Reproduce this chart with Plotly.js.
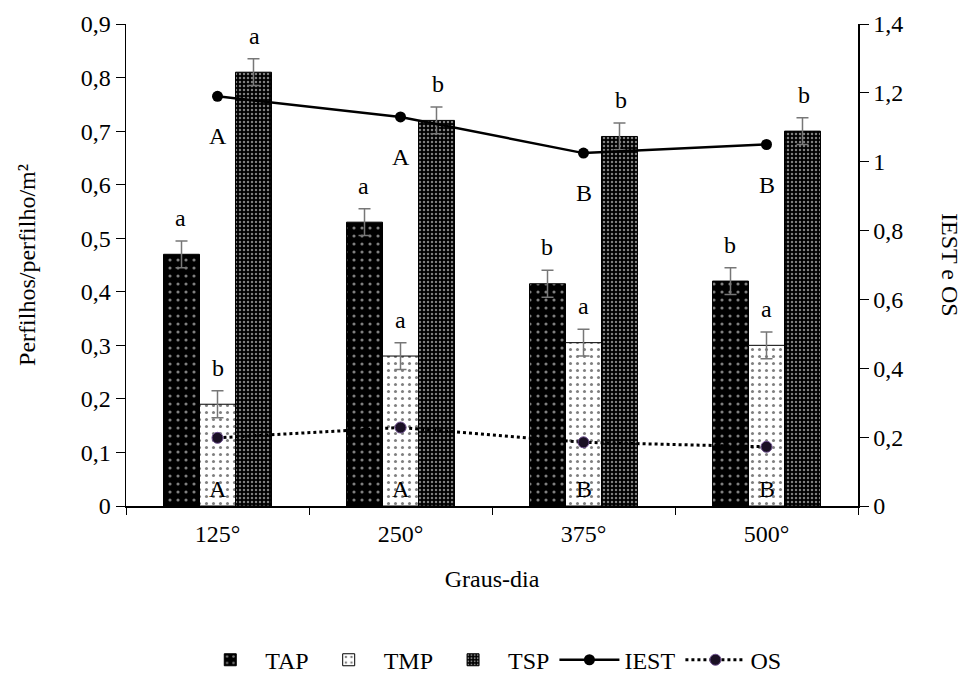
<!DOCTYPE html>
<html>
<head>
<meta charset="utf-8">
<script src="https://cdn.plot.ly/plotly-3.0.1.min.js"></script>
<style>html,body{margin:0;padding:0;background:#fff;}#chart{width:968px;height:675px;}</style>
</head>
<body>
<div id="chart"></div>
<script>
const categories = ['125°', '250°', '375°', '500°'];
const tap = [0.47, 0.53, 0.415, 0.42];
const tmp = [0.19, 0.28, 0.305, 0.30];
const tsp = [0.81, 0.72, 0.69, 0.70];
const tapErr = [0.025, 0.025, 0.025, 0.025];
const tmpErr = [0.025, 0.025, 0.025, 0.025];
const tspErr = [0.025, 0.025, 0.025, 0.025];
const iest = [1.19, 1.13, 1.025, 1.05];
const os = [0.198, 0.228, 0.185, 0.172];
const tapLetters = ['a', 'a', 'b', 'b'];
const tmpLetters = ['b', 'a', 'a', 'a'];
const tspLetters = ['a', 'b', 'b', 'b'];
const iestLetters = ['A', 'A', 'B', 'B'];
const osLetters = ['A', 'A', 'B', 'B'];

const FONT = 'Liberation Serif';
const FS = 24;
const f = (s) => ({family: FONT, size: s || FS, color: '#000'});
const errStyle = {type: 'data', visible: true, color: '#777', thickness: 1.5, width: 6};

const traces = [
  {type: 'bar', name: 'TAP', x: categories, y: tap,
   error_y: Object.assign({array: tapErr}, errStyle),
   marker: {color: '#000', line: {color: '#000', width: 1},
            pattern: {shape: '.', fgcolor: '#fff', bgcolor: '#000', size: 8, solidity: 0.12, fillmode: 'overlay'}}},
  {type: 'bar', name: 'TMP', x: categories, y: tmp,
   error_y: Object.assign({array: tmpErr}, errStyle),
   marker: {color: '#fff', line: {color: '#000', width: 1},
            pattern: {shape: '.', fgcolor: '#000', bgcolor: '#fff', size: 7, solidity: 0.15, fillmode: 'overlay'}}},
  {type: 'bar', name: 'TSP', x: categories, y: tsp,
   error_y: Object.assign({array: tspErr}, errStyle),
   marker: {color: '#000', line: {color: '#000', width: 1},
            pattern: {shape: '.', fgcolor: '#fff', bgcolor: '#000', size: 4, solidity: 0.3, fillmode: 'overlay'}}},
  {type: 'scatter', mode: 'lines+markers', name: 'IEST', x: categories, y: iest, yaxis: 'y2',
   line: {color: '#000', width: 2.5}, marker: {color: '#000', size: 11}},
  {type: 'scatter', mode: 'lines+markers', name: 'OS', x: categories, y: os, yaxis: 'y2',
   line: {color: '#000', width: 3, dash: 'dot'},
   marker: {color: '#1a1024', size: 11, line: {color: '#6a4c8c', width: 1}}}
];

const annotations = [];
const barShift = [-37, 0, 37];
const barSeries = [[tap, tapErr, tapLetters], [tmp, tmpErr, tmpLetters], [tsp, tspErr, tspLetters]];
barSeries.forEach((s, k) => {
  categories.forEach((c, i) => {
    annotations.push({x: c, y: s[0][i] + s[1][i], xref: 'x', yref: 'y', text: s[2][i],
      showarrow: false, yanchor: 'bottom', xshift: barShift[k], yshift: 8, font: f()});
  });
});
categories.forEach((c, i) => {
  annotations.push({x: c, y: iest[i], xref: 'x', yref: 'y2', text: iestLetters[i],
    showarrow: false, yanchor: 'middle', yshift: -40, font: f()});
  annotations.push({x: c, y: 0, xref: 'x', yref: 'y2', text: osLetters[i],
    showarrow: false, yanchor: 'bottom', yshift: 2, font: f()});
});
annotations.push({x: 1, xref: 'paper', xanchor: 'center', xshift: 92, y: 0.5, yref: 'paper', yanchor: 'middle',
  text: 'IEST e OS', textangle: 90, showarrow: false, font: f()});

const layout = {
  width: 968, height: 675,
  margin: {l: 126, r: 110, t: 24, b: 169, autoexpand: false},
  paper_bgcolor: '#fff', plot_bgcolor: '#fff',
  separators: ',.',
  font: f(),
  barmode: 'group', bargap: 0.41, bargroupgap: 0,
  showlegend: true,
  legend: {orientation: 'h', xref: 'container', x: 0.507, xanchor: 'center',
           yref: 'container', y: 0.022, yanchor: 'middle',
           font: f(), traceorder: 'normal', itemwidth: 60},
  xaxis: {type: 'category', showline: true, linecolor: '#000', linewidth: 1.5,
          ticks: 'outside', tickson: 'boundaries', ticklen: 7, tickcolor: '#000', tickfont: f(),
          ticklabelstandoff: 6, showgrid: false, zeroline: false,
          title: {text: 'Graus-dia', standoff: 24, font: f()}},
  yaxis: {range: [0, 0.9], dtick: 0.1, showline: true, linecolor: '#000', linewidth: 1.5,
          ticks: 'outside', ticklen: 9, tickcolor: '#000', tickfont: f(), showgrid: false, zeroline: false,
          title: {text: 'Perfilhos/perfilho/m²', standoff: 38, font: f()}},
  yaxis2: {range: [0, 1.4], dtick: 0.2, overlaying: 'y', side: 'right', showline: true,
           linecolor: '#000', linewidth: 1.5, ticks: 'outside', ticklen: 9, tickcolor: '#000', tickfont: f(),
           showgrid: false, zeroline: false},
  annotations: annotations
};

Plotly.newPlot('chart', traces, layout, {displayModeBar: false, staticPlot: true});
</script>
</body>
</html>
